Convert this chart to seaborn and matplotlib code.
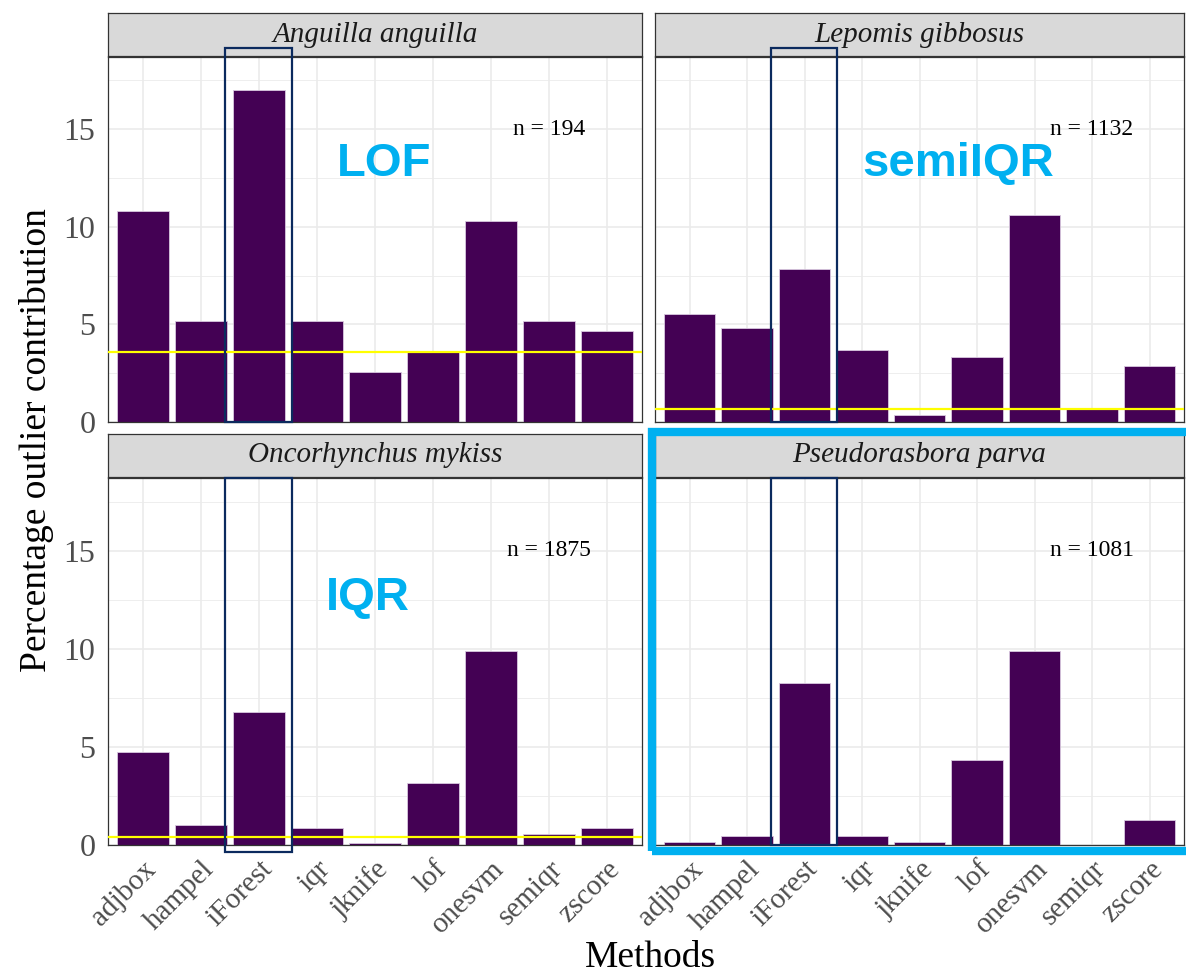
import matplotlib
matplotlib.use('Agg')
import matplotlib.pyplot as plt
import matplotlib.transforms as mtransforms
from matplotlib.patches import Rectangle
from matplotlib.ticker import MultipleLocator
import seaborn as sns
import pandas as pd

# ---------------- data ----------------
methods = ['adjbox', 'hampel', 'iForest', 'iqr', 'jknife', 'lof', 'onesvm', 'semiqr', 'zscore']
species = ['Anguilla anguilla', 'Lepomis gibbosus', 'Oncorhynchus mykiss', 'Pseudorasbora parva']
anguilla = [10.82, 5.15, 17.01, 5.15, 2.58, 3.61, 10.31, 5.15, 4.64]
lepomis = [5.55, 4.83, 7.86, 3.69, 0.35, 3.35, 10.58, 0.71, 2.89]
oncorhynchus = [4.75, 1.00, 6.78, 0.87, 0.09, 3.18, 9.91, 0.58, 0.87]
pseudorasbora = [0.14, 0.45, 8.24, 0.45, 0.14, 4.33, 9.89, 0.00, 1.27]
sample_sizes = [194, 1132, 1875, 1081]
ref_lines = [3.61, 0.66, 0.43, None]
best_labels = ['LOF', 'semiIQR', 'IQR', None]

values = [anguilla, lepomis, oncorhynchus, pseudorasbora]
rows = []
for sp, vals in zip(species, values):
    for m, v in zip(methods, vals):
        rows.append({'species': sp, 'method': m, 'pct': v})
df = pd.DataFrame(rows)

# ---------------- style ----------------
sns.set_style('white')
plt.rcParams['font.family'] = ['Liberation Serif', 'DejaVu Serif']

W, H = 1186, 977
fig = plt.figure(figsize=(W / 100, H / 100), dpi=100)

def fx(px):
    return px / W

def fy(py):
    return 1 - py / H

# panel boxes in pixel coords: (left, right, top, bottom)
panel_px = [
    (108, 642, 57, 422),
    (655, 1184, 57, 422),
    (108, 642, 478, 845),
    (655, 1184, 478, 845),
]
strip_h = 43
label_pos = [(4.15, 13.2), (4.67, 13.2), (3.87, 12.6), None]

bar_color = '#440154'
cyan = '#00B0F0'

for i, sp in enumerate(species):
    l, r, t, b = panel_px[i]
    ax = fig.add_axes([fx(l), fy(b), fx(r) - fx(l), fy(t) - fy(b)])
    ax.set_zorder(3)
    sub = df[df['species'] == sp]
    sns.barplot(data=sub, x='method', y='pct', order=methods, color=bar_color,
                saturation=1, width=0.9, errorbar=None, edgecolor='#D9C8DF',
                linewidth=0.6, ax=ax, zorder=2)
    for p in ax.patches:
        if p.get_height() == 0:
            p.set_linewidth(0)
    ax.set_xlim(-0.6, 8.6)
    ax.set_ylim(0, 18.7)
    ax.yaxis.set_major_locator(MultipleLocator(5))
    ax.yaxis.set_minor_locator(MultipleLocator(2.5))
    ax.set_axisbelow(True)
    ax.grid(which='major', color='#EBEBEB', linewidth=1.2, zorder=0)
    ax.grid(which='minor', axis='y', color='#EBEBEB', linewidth=0.6, zorder=0)
    for s in ax.spines.values():
        s.set_color('#333333')
        s.set_linewidth(0.9)
    ax.set_xlabel('')
    ax.set_ylabel('')
    ax.tick_params(which='minor', length=0)
    left_col = (i % 2 == 0)
    bottom_row = (i >= 2)
    ax.tick_params(axis='y', which='major', length=5 if left_col else 0,
                   color='#333333', labelsize=23, labelcolor='#4D4D4D',
                   labelleft=left_col, pad=4)
    ax.tick_params(axis='x', which='major', length=5 if bottom_row else 0,
                   color='#333333', labelsize=21, labelcolor='#4D4D4D',
                   labelbottom=bottom_row, pad=3)
    if bottom_row:
        for lab in ax.get_xticklabels():
            lab.set_rotation(45)
            lab.set_ha('right')
            lab.set_va('top')
            lab.set_rotation_mode('anchor')
    else:
        ax.set_xticklabels([])

    if ref_lines[i] is not None:
        ax.axhline(ref_lines[i], color='#FFFF00', linewidth=1.6, zorder=3)

    ax.text(7.0, 15.0, f'n = {sample_sizes[i]}', ha='center', va='center',
            fontsize=17, color='black', zorder=4)

    if best_labels[i] is not None:
        lx, ly = label_pos[i]
        ax.text(lx, ly, best_labels[i], ha='center', va='center', fontsize=34,
                fontweight='bold', color=cyan, family='Liberation Sans', zorder=4)

    # highlight rectangle around iForest column
    trans = mtransforms.blended_transform_factory(ax.transData, ax.transAxes)
    y0 = -0.02 if i == 2 else 0.0
    y1 = 1.0 if bottom_row else 1.025
    ax.add_patch(Rectangle((1.42, y0), 1.15, y1 - y0, transform=trans,
                           fill=False, edgecolor='#0B2A5E', linewidth=1.6,
                           clip_on=False, zorder=5))

    # strip
    sax = fig.add_axes([fx(l), fy(t - 1), fx(r) - fx(l), strip_h / H])
    sax.set_zorder(1)
    sax.set_facecolor('#D9D9D9')
    sax.set_xticks([])
    sax.set_yticks([])
    for s in sax.spines.values():
        s.set_color('#333333')
        s.set_linewidth(0.9)
    sax.text(0.5, 0.5, sp, ha='center', va='center', fontsize=21,
             style='italic', color='#1A1A1A', transform=sax.transAxes)

# cyan highlight box around bottom-right panel
fig.patches.append(Rectangle((fx(652), fy(851)), fx(1192) - fx(652), fy(432) - fy(851),
                             transform=fig.transFigure, fill=False,
                             edgecolor=cyan, linewidth=6, zorder=10))

fig.text(fx(650), fy(958), 'Methods', ha='center', va='center', fontsize=27, color='black')
fig.text(fx(37), fy(440), 'Percentage outlier contribution', ha='center', va='center',
         rotation=90, fontsize=27, color='black')

fig.savefig('out.png', dpi=100, facecolor='white')
